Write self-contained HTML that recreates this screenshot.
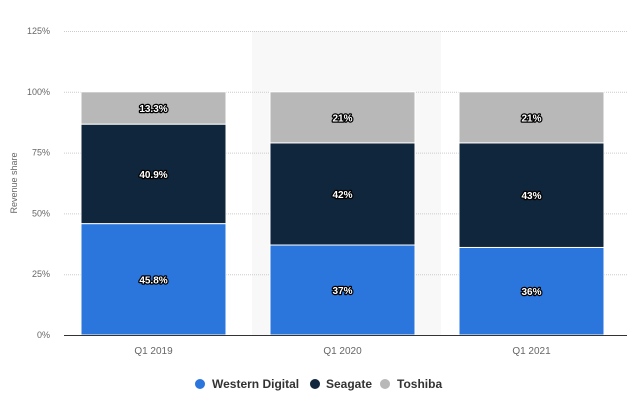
<!DOCTYPE html>
<html><head><meta charset="utf-8"><style>
body{margin:0;background:#fff;width:640px;height:409px;overflow:hidden;font-family:"Liberation Sans",sans-serif}
</style></head><body>
<svg id="chart" width="640" height="409" xmlns="http://www.w3.org/2000/svg">
<rect x="252" y="31" width="189" height="304" fill="#f8f8f8"/>
<g id="grid"></g>
<g id="bars"></g>
<line x1="64" x2="627" y1="335.5" y2="335.5" stroke="#333" stroke-width="1"/>
<text transform="translate(17,183) rotate(-90)" text-anchor="middle" font-size="9" fill="#666">Revenue share</text>
<g id="legend" font-size="12" font-weight="bold" fill="#333">
<g><circle cx="200" cy="384" r="5" fill="#2a76dd"/><text x="212" y="388">Western Digital</text></g>
<g><circle cx="315" cy="384" r="5" fill="#0f263d"/><text x="326" y="388">Seagate</text></g>
<g><circle cx="385" cy="384" r="5" fill="#b8b8b8"/><text x="397" y="388">Toshiba</text></g>
</g>
</svg>
<script>
const categories = ["Q1 2019","Q1 2020","Q1 2021"];
const westernDigital = [45.8, 37, 36];
const seagate = [40.9, 42, 43];
const toshiba = [13.3, 21, 21];
const wdLabels = ["45.8%","37%","36%"];
const sgLabels = ["40.9%","42%","43%"];
const tbLabels = ["13.3%","21%","21%"];
const yTicks = [0,25,50,75,100,125];
const yTickLabels = ["0%","25%","50%","75%","100%","125%"];

const NS="http://www.w3.org/2000/svg";
const y = v => 335 - v*304/125;
const bandW = 189, x0 = 64;
const xc = i => x0 + bandW*i + bandW/2 - 5;
const barW = 145;
const grid=document.getElementById('grid'), bars=document.getElementById('bars');
function mk(tag, attrs, parent){const e=document.createElementNS(NS,tag);for(const k in attrs)e.setAttribute(k,attrs[k]);parent.appendChild(e);return e;}
yTicks.forEach((t,i)=>{
  if(t>0){const l=mk('line',{x1:64,x2:627,y1:y(t)+0.5,y2:y(t)+0.5,stroke:'#ccc','stroke-dasharray':'1,1'},grid);
  
  }
  const tx=mk('text',{x:50,y:y(t)+3,'text-anchor':'end','font-size':'9',fill:'#666'},grid);
  tx.textContent=yTickLabels[i];
  
  
});
const series=[[westernDigital,'#2a76dd',wdLabels,'western-digital'],[seagate,'#0f263d',sgLabels,'seagate'],[toshiba,'#b8b8b8',tbLabels,'toshiba']];
categories.forEach((c,i)=>{
  let base=0;
  series.forEach(([vals,col,labs,nm])=>{
    const v=vals[i], top=base+v;
    const r=mk('rect',{x:xc(i)-barW/2,y:y(top),width:barW,height:y(base)-y(top),fill:col,stroke:'#fff','stroke-width':1},bars);
    
    
    const t=mk('text',{x:xc(i),y:(y(top)+y(base))/2+4,'text-anchor':'middle','font-size':'10','font-weight':'bold',fill:'#fff',stroke:'#000','stroke-width':'2.5','paint-order':'stroke','stroke-linejoin':'round'},bars);
    t.textContent=labs[i];
    
    
    base=top;
  });
  const xl=mk('text',{x:xc(i),y:354,'text-anchor':'middle','font-size':'10',fill:'#666'},bars);
  xl.textContent=c;
  
  
});
</script>
</body></html>
